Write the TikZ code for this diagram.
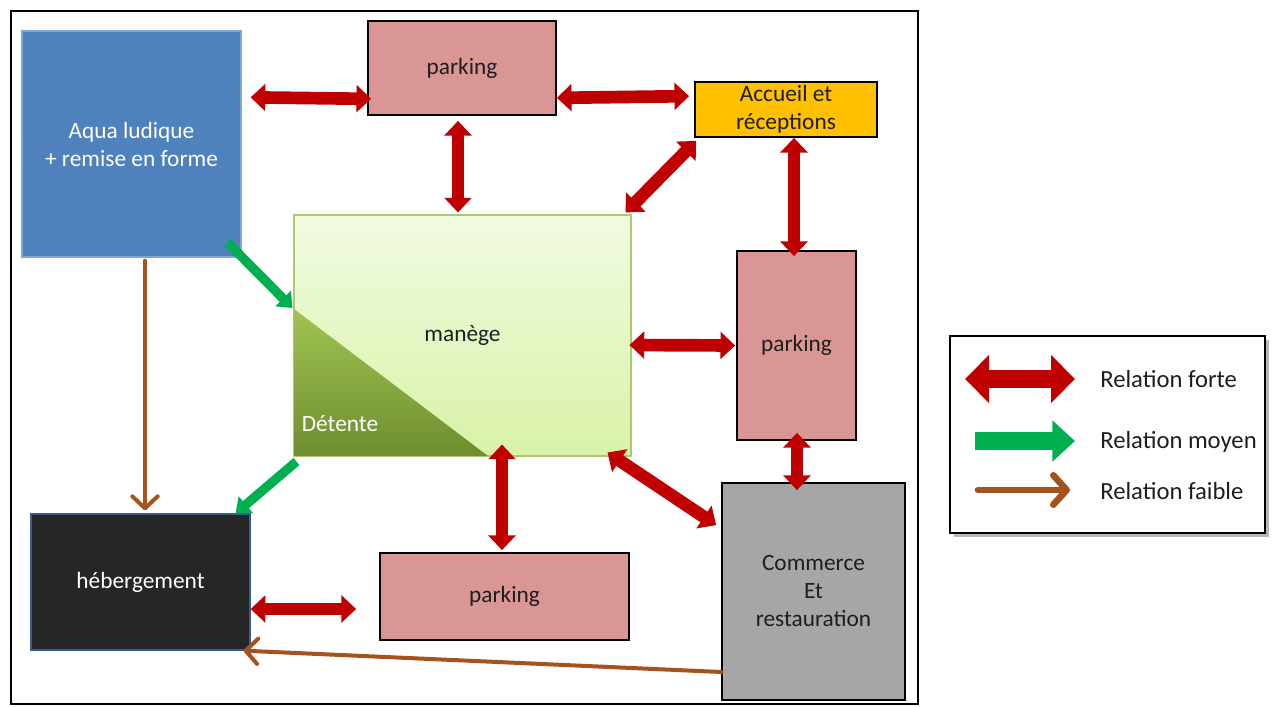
\documentclass[tikz,border=0pt]{standalone}
\usepackage{fontspec}
\setmainfont{Carlito}
\usetikzlibrary{arrows.meta,calc,fit,shadows}
\definecolor{cRed}{HTML}{C00000}
\definecolor{cPink}{HTML}{D99694}
\definecolor{cOrange}{HTML}{FFC000}
\definecolor{cBlue}{HTML}{4F81BD}
\definecolor{cBlueLine}{HTML}{7FA6D6}
\definecolor{cGray}{HTML}{A6A6A6}
\definecolor{cDark}{HTML}{262626}
\definecolor{cDarkLine}{HTML}{385D8A}
\definecolor{cGreen}{HTML}{00B050}
\definecolor{cBrown}{HTML}{A5521C}
\definecolor{manTop}{HTML}{F1FBE3}
\definecolor{manBot}{HTML}{D9F2A6}
\definecolor{manLine}{HTML}{A9CC6B}
\definecolor{detTop}{HTML}{A0C452}
\definecolor{detBot}{HTML}{6E8E2F}
\definecolor{txt}{HTML}{1E1E1E}
\tikzset{
  box/.style={inner sep=0pt},
  lbl/.style={inner sep=0pt, align=center, text=txt},
  pinkbox/.style={box, fill=cPink, draw=black, line width=1.3pt},
  redarr/.style={draw=cRed, line width=9.5pt, {Triangle[length=11pt,width=20pt]}-{Triangle[length=11pt,width=20pt]}},
  greenarr/.style={draw=cGreen, line width=7pt, -{Triangle[length=10pt,width=16pt]}},
  brownarr/.style={draw=cBrown, line width=3pt, line cap=round, -{Straight Barb[length=9pt,width=19pt,round]}},
  legred/.style={draw=cRed, line width=13pt, {Triangle[length=18pt,width=35pt]}-{Triangle[length=18pt,width=35pt]}},
  leggreen/.style={draw=cGreen, line width=13pt, -{Triangle[length=17pt,width=30pt]}},
  legbrown/.style={draw=cBrown, line width=5pt, line cap=round, -{Straight Barb[length=10pt,width=22pt,round]}},
  legtext/.style={anchor=west, inner sep=0pt, text=txt, font=\fontsize{18.5}{22}\selectfont}
}
\begin{document}
\begin{tikzpicture}[x=0.75pt,y=-0.75pt, font=\fontsize{17.5}{21}\selectfont]
\useasboundingbox (0,0) rectangle (1275,707);
\fill[white] (0,0) rectangle (1275,707);
% main frame
\draw[line width=2.2pt] (11,11) rectangle (918,704);

% boxes
\node[box, fit={(22,31) (241,257)}, fill=cBlue, draw=cBlueLine, line width=1pt] (aqua) {};
\node[lbl, text=white] (aquat) at (aqua.center) {Aqua ludique\\+ remise en forme};
\node[pinkbox, fit={(368,21) (556,115)}] (ptop) {};
\node[lbl] (ptopt) at (ptop.center) {parking};
\node[box, fit={(695,82) (877,137)}, fill=cOrange, draw=black, line width=1.3pt] (acc) {};
\node[lbl] (acct) at (acc.center) {Accueil et\\réceptions};
\node[box, fit={(294,215) (631,456)}, top color=manTop, bottom color=manBot, draw=manLine, line width=0.8pt] (man) {};
\shade[top color=detTop, bottom color=detBot] (294,309) -- (294,456) -- (488,456) -- cycle;
\draw[manLine, line width=0.8pt] (man.north west) rectangle (man.south east);
\node[lbl] (mantxt) at (man.center) {manège};
\node[lbl, text=white] (det) at (340,424) {Détente};
\node[pinkbox, fit={(737,251) (856,440)}] (pright) {};
\node[lbl] (prightt) at (pright.center) {parking};
\node[box, fit={(722,483) (905,700)}, fill=cGray, draw=black, line width=1.3pt] (com) {};
\node[lbl] (comt) at (com.center) {Commerce\\Et\\restauration};
\node[box, fit={(31,514) (250,650)}, fill=cDark, draw=cDarkLine, line width=1pt] (heb) {};
\node[lbl, text=white] (hebt) at (heb.center) {hébergement};
\node[pinkbox, fit={(380,553) (629,640)}] (pbot) {};
\node[lbl] (pbott) at (pbot.center) {parking};

% strong relations
\draw[redarr] ($(aqua.north east)+(9,67)$) -- ($(ptop.south west)+(4,-17)$);
\draw[redarr] ($(ptop.south east)+(0,-18)$) -- ($(acc.north west)+(-5,15)$);
\draw[redarr] ($(ptop.south)+(-4,5)$) -- ($(man.north)+(-4.5,-2)$);
\draw[redarr] ($(acc.south west)+(2,3)$) -- ($(man.north east)+(-6,-2)$);
\draw[redarr] ($(acc.south)+(8,0)$) -- ($(pright.north)+(-2.5,6)$);
\draw[redarr] ($(man.east)+(-2,9.5)$) -- ($(pright.west)+(-1,0)$);
\draw[redarr] ($(pright.south)+(0.5,-8)$) -- ($(com.north)+(-16.5,8)$);
\draw[redarr] ($(man.south)+(39.5,-12)$) -- ($(pbot.north)+(-2.5,-2)$);
\draw[redarr] ($(man.south east)+(-24,-4)$) -- ($(com.north west)+(-5,43)$);
\draw[redarr] ($(heb.east)+(0,27)$) -- ($(pbot.west)+(-23,12.5)$);

% medium relations
\draw[greenarr] ($(aqua.south east)+(-14,-15)$) -- ($(man.west)+(-1,-27.5)$);
\draw[greenarr] ($(man.south west)+(3,5)$) -- ($(heb.north east)+(-15,0)$);

% weak relations
\draw[brownarr] ($(aqua.south)+(13.5,3)$) -- ($(heb.north)+(4.5,-3)$);
\draw[brownarr] ($(com.west)+(0,80.5)$) -- ($(heb.south east)+(-7,0)$);

% legend
\node[fit={(950,336) (1265,533)}, inner sep=0pt, draw=black, line width=2.2pt, fill=white, drop shadow={shadow xshift=3pt, shadow yshift=-3pt, fill=black!55}] (leg) {};
\coordinate (l1a) at (965,379); \coordinate (l1b) at (1075,379);
\coordinate (l2a) at (975,441); \coordinate (l2b) at (1075,441);
\coordinate (l3a) at (978,490); \coordinate (l3b) at (1070,490);
\draw[legred] (l1a) -- (l1b);
\draw[leggreen] (l2a) -- (l2b);
\draw[legbrown] (l3a) -- (l3b);
\node[legtext] (t1) at (1100,379) {Relation forte};
\node[legtext] (t2) at (1100,442) {Relation moyen};
\node[legtext] (t3) at (1100,491) {Relation faible};
\end{tikzpicture}
\end{document}
